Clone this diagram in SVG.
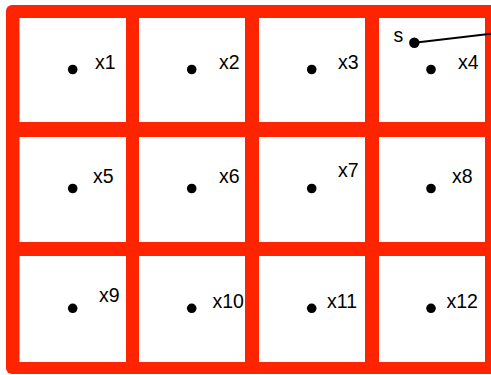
<svg xmlns="http://www.w3.org/2000/svg" width="491" height="375" viewBox="0 0 491 375">
<style>
.cell{fill:#ffffff}
.dot{fill:#000000}
.lbl{font-family:"Liberation Sans",Arial,sans-serif;font-size:19.5px;fill:#000000}
.edge{stroke:#000000;stroke-width:2;fill:none}
</style>
<rect x="6" y="5" width="495" height="369" rx="6" fill="#ff2400"/>
<g id="cell1"><rect class="cell" x="19.5" y="18" width="106.5" height="104"/><circle class="dot" cx="72.7" cy="69.5" r="4.8"/><text class="lbl" x="95" y="68.5">x1</text></g>
<g id="cell2"><rect class="cell" x="139" y="18" width="106" height="104"/><circle class="dot" cx="191.7" cy="69.5" r="4.8"/><text class="lbl" x="219" y="68.5">x2</text></g>
<g id="cell3"><rect class="cell" x="259" y="18" width="106" height="104"/><circle class="dot" cx="311.7" cy="69.5" r="4.8"/><text class="lbl" x="338" y="69">x3</text></g>
<g id="cell4"><rect class="cell" x="379" y="18" width="106" height="104"/><circle class="dot" cx="431" cy="69.5" r="4.8"/><text class="lbl" x="458" y="69">x4</text></g>
<g id="cell5"><rect class="cell" x="19.5" y="137" width="106.5" height="105"/><circle class="dot" cx="72.7" cy="188.5" r="4.8"/><text class="lbl" x="93" y="182.7">x5</text></g>
<g id="cell6"><rect class="cell" x="139" y="137" width="106" height="105"/><circle class="dot" cx="191.7" cy="188.5" r="4.8"/><text class="lbl" x="219" y="182.7">x6</text></g>
<g id="cell7"><rect class="cell" x="259" y="137" width="106" height="105"/><circle class="dot" cx="311.7" cy="188.5" r="4.8"/><text class="lbl" x="338" y="176.7">x7</text></g>
<g id="cell8"><rect class="cell" x="379" y="137" width="106" height="105"/><circle class="dot" cx="431" cy="188.5" r="4.8"/><text class="lbl" x="452" y="182.7">x8</text></g>
<g id="cell9"><rect class="cell" x="19.5" y="256" width="106.5" height="106"/><circle class="dot" cx="72.7" cy="308.3" r="4.8"/><text class="lbl" x="99" y="302.3">x9</text></g>
<g id="cell10"><rect class="cell" x="139" y="256" width="106" height="106"/><circle class="dot" cx="191.7" cy="308.3" r="4.8"/><text class="lbl" x="212.5" y="307.7">x10</text></g>
<g id="cell11"><rect class="cell" x="259" y="256" width="106" height="106"/><circle class="dot" cx="311.7" cy="308.3" r="4.8"/><text class="lbl" x="327" y="307.7">x11</text></g>
<g id="cell12"><rect class="cell" x="379" y="256" width="106" height="106"/><circle class="dot" cx="431" cy="308.3" r="4.8"/><text class="lbl" x="446.5" y="307.7">x12</text></g>
<g id="connectors"><line class="edge" x1="414.3" y1="42.7" x2="495" y2="33.3"/></g>
<g id="s"><circle class="dot" cx="414.3" cy="42.7" r="5.2"/><text class="lbl" x="393.5" y="41.7">s</text></g>
</svg>
